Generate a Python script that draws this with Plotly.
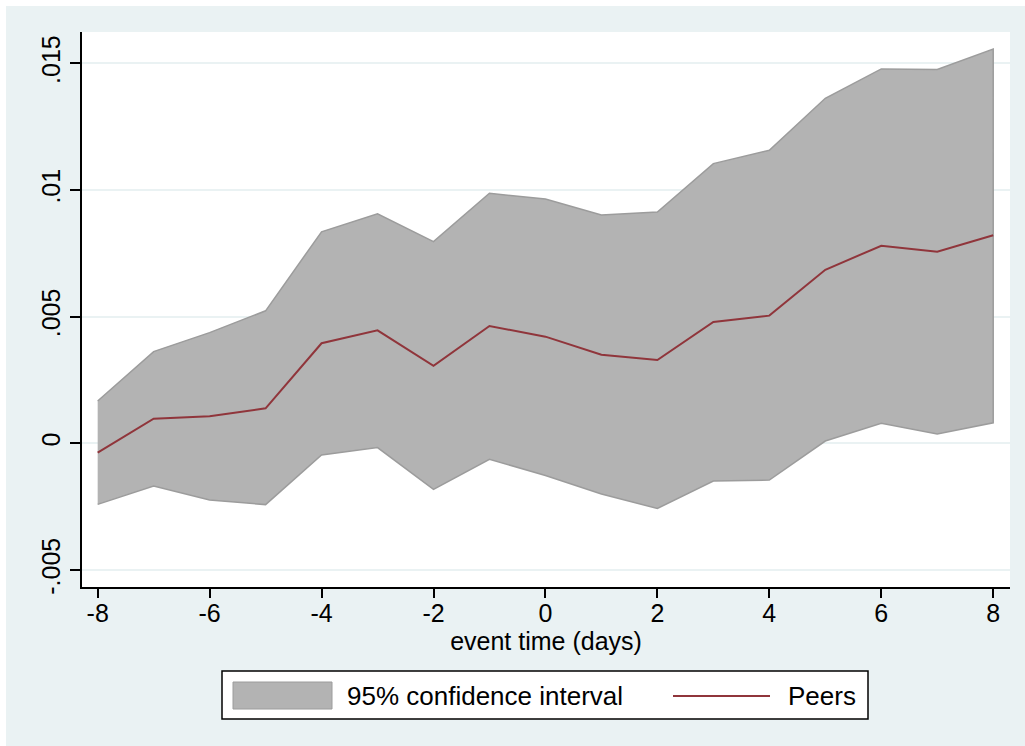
import plotly.graph_objects as go

# Event-study estimates for peers with 95% confidence bands
event_days = [-8, -7, -6, -5, -4, -3, -2, -1, 0, 1, 2, 3, 4, 5, 6, 7, 8]
peers_coef = [-0.00037, 0.00097, 0.00107, 0.00138, 0.00395, 0.00446, 0.00306, 0.00463,
              0.00421, 0.00350, 0.00329, 0.00479, 0.00504, 0.00685, 0.00780, 0.00756, 0.00821]
ci_upper = [0.00167, 0.00362, 0.00437, 0.00523, 0.00835, 0.00906, 0.00796, 0.00987,
            0.00964, 0.00901, 0.00913, 0.01104, 0.01157, 0.01362, 0.01478, 0.01476, 0.01556]
ci_lower = [-0.00241, -0.00169, -0.00224, -0.00242, -0.00046, -0.00017, -0.00182, -0.00063,
            -0.00127, -0.00200, -0.00257, -0.00149, -0.00145, 0.00009, 0.00079, 0.00037, 0.00081]

x_tickvals = [-8, -6, -4, -2, 0, 2, 4, 6, 8]
x_ticktext = ["-8", "-6", "-4", "-2", "0", "2", "4", "6", "8"]
y_tickvals = [-0.005, 0, 0.005, 0.01, 0.015]
y_ticktext = ["-.005", "0", ".005", ".01", ".015"]

legend_labels = ["95% confidence interval", "Peers"]
x_title = "event time (days)"

# Styling
W, H = 1025, 746
ML, MR, MT, MB = 82, 15, 32, 159
BG = "#EAF2F3"
BAND_FILL = "#B3B3B3"
BAND_EDGE = "#9C9C9C"
LINE_RED = "#90353B"
FONT = "Liberation Sans, Arial, Helvetica, sans-serif"
FS = 25

plot_w = W - ML - MR
plot_h = H - MT - MB


def px_x(p):
    return (p - ML) / plot_w


def px_y(p):
    return (H - MB - p) / plot_h


fig = go.Figure()

# Confidence band as a closed polygon (upper edge then lower edge reversed)
fig.add_trace(go.Scatter(
    x=event_days + event_days[::-1],
    y=ci_upper + ci_lower[::-1],
    fill="toself",
    fillcolor=BAND_FILL,
    line=dict(color=BAND_EDGE, width=1.5),
    mode="lines",
    hoverinfo="skip",
    showlegend=False,
    name=legend_labels[0],
))

fig.add_trace(go.Scatter(
    x=event_days,
    y=peers_coef,
    mode="lines",
    line=dict(color=LINE_RED, width=2),
    showlegend=False,
    name=legend_labels[1],
))

shapes = [
    # thin white border around the outer panel
    dict(type="rect", xref="paper", yref="paper", x0=px_x(0), x1=px_x(W), y0=px_y(0), y1=px_y(6),
         fillcolor="white", line=dict(width=0), layer="below"),
    dict(type="rect", xref="paper", yref="paper", x0=px_x(0), x1=px_x(6), y0=px_y(H), y1=px_y(0),
         fillcolor="white", line=dict(width=0), layer="below"),
    # legend frame
    dict(type="rect", xref="paper", yref="paper", x0=px_x(222), x1=px_x(868), y0=px_y(719), y1=px_y(671),
         fillcolor="white", line=dict(color="black", width=1.5)),
    # band swatch
    dict(type="rect", xref="paper", yref="paper", x0=px_x(233), x1=px_x(332), y0=px_y(709), y1=px_y(682),
         fillcolor=BAND_FILL, line=dict(color=BAND_EDGE, width=1)),
    # line swatch
    dict(type="line", xref="paper", yref="paper", x0=px_x(673), x1=px_x(770), y0=px_y(696), y1=px_y(696),
         line=dict(color=LINE_RED, width=2)),
]

annotations = [
    dict(text=legend_labels[0], xref="paper", yref="paper", x=px_x(345), y=px_y(696),
         xanchor="left", yanchor="middle", showarrow=False, font=dict(size=FS + 1, color="black", family=FONT)),
    dict(text=legend_labels[1], xref="paper", yref="paper", x=px_x(786), y=px_y(696),
         xanchor="left", yanchor="middle", showarrow=False, font=dict(size=FS + 1, color="black", family=FONT)),
]

fig.update_layout(
    width=W, height=H,
    margin=dict(l=ML, r=MR, t=MT, b=MB, pad=0),
    paper_bgcolor=BG,
    plot_bgcolor="white",
    font=dict(family=FONT, size=FS, color="black"),
    showlegend=False,
    shapes=shapes,
    annotations=annotations,
    xaxis=dict(
        range=[-8.28, 8.30],
        tickvals=x_tickvals, ticktext=x_ticktext,
        showgrid=False, zeroline=False,
        showline=True, linecolor="black", linewidth=1.5,
        ticks="outside", ticklen=9, tickwidth=1.5, tickcolor="black",
        ticklabelstandoff=-6,
        tickfont=dict(size=FS),
        title=dict(text=x_title, font=dict(size=FS), standoff=2),
    ),
    yaxis=dict(
        range=[-0.005672, 0.016236],
        tickvals=y_tickvals, ticktext=y_ticktext,
        tickangle=-90,
        showgrid=True, gridcolor=BG, gridwidth=1.5, zeroline=False,
        showline=True, linecolor="black", linewidth=1.5,
        ticks="outside", ticklen=10, tickwidth=1.5, tickcolor="black",
        tickfont=dict(size=FS),
    ),
)

fig.write_html("out.html")
